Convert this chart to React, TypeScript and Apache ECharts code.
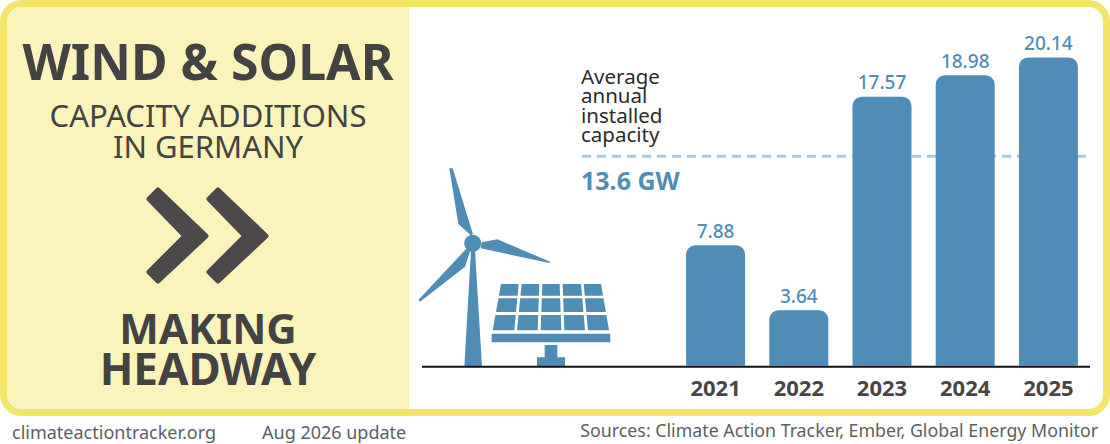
import React, { useEffect, useRef } from "react";
import * as echarts from "echarts";

const years = ["2021", "2022", "2023", "2024", "2025"];
const additions = [7.88, 3.64, 17.57, 18.98, 20.14];
const averageValue = 13.6;
const averageLabel = ["Average", "annual", "installed", "capacity"];

const BLUE = "#4f8db6";
const DARK = "#444243";
const FONT = "'Noto Sans', sans-serif";

const poly = (pts: number[][], fill = BLUE) => ({
  type: "polygon",
  shape: { points: pts.map(([x, y]) => [410 + x / 3, 150 + y / 3]) },
  style: { fill },
});

const panelRows = [
  [402, 437],
  [445, 486],
  [495, 541],
];
const topXs = [[273, 326], [335, 388], [397, 449], [458, 513], [521, 573]];
const botXs = [[248, 313], [321, 383], [392, 454], [463, 525], [534, 597]];
const cellX = (col: number, side: number, y: number) => {
  const t = (y - 402) / (541 - 402);
  return topXs[col][side] + (botXs[col][side] - topXs[col][side]) * t;
};
const solarCells = panelRows.flatMap(([y0, y1]) =>
  topXs.map((_, c) =>
    poly([
      [cellX(c, 0, y0), y0],
      [cellX(c, 1, y0), y0],
      [cellX(c, 1, y1), y1],
      [cellX(c, 0, y1), y1],
    ]),
  ),
);

const chevron = (dx: number) => ({
  type: "polygon",
  shape: {
    points: [[158, 190], [206, 236], [158, 281], [149, 272], [185, 236], [149, 199]].map(([x, y]) => [x + dx, y]),
  },
  style: { fill: "#4d4849", stroke: "#4d4849", lineWidth: 5, lineJoin: "round" },
});

const text = (t: string, x: number, y: number, size: number, weight: number | string, fill: string, align = "center") => ({
  type: "text",
  x,
  y,
  style: { text: t, x: 0, y: 0, fontFamily: FONT, fontSize: size, fontWeight: weight, fill, textAlign: align, textVerticalAlign: "middle" },
});

export default function App() {
  const ref = useRef<HTMLDivElement>(null);
  useEffect(() => {
    document.body.style.margin = "0";
    const chart = echarts.init(ref.current!, undefined, { renderer: "svg" });
    chart.setOption({
      animation: false,
      backgroundColor: "#ffffff",
      grid: [
        { left: 674, width: 416, top: 29, height: 337 },
        { left: 582, width: 507, top: 27.5, height: 337 },
      ],
      xAxis: [
        {
          type: "category",
          gridIndex: 0,
          data: years,
          axisLine: { show: false },
          axisTick: { show: false },
          axisLabel: { color: "#4a4545", fontFamily: FONT, fontSize: 22, fontWeight: 700, margin: 10 },
        },
        { type: "value", gridIndex: 1, min: 0, max: 1, show: false },
      ],
      yAxis: [
        { type: "value", gridIndex: 0, min: 0, max: 22, show: false },
        { type: "value", gridIndex: 1, min: 0, max: 22, show: false },
      ],
      series: [
        {
          type: "line",
          xAxisIndex: 1,
          yAxisIndex: 1,
          z: 3,
          silent: true,
          symbol: "none",
          data: [[0, averageValue], [1, averageValue]],
          lineStyle: { color: "#a9c9de", width: 3, type: [9, 6] },
        },
        {
          type: "bar",
          xAxisIndex: 0,
          yAxisIndex: 0,
          z: 4,
          barWidth: 59,
          data: additions,
          itemStyle: { color: BLUE, borderRadius: [9, 9, 0, 0] },
          label: {
            show: true,
            position: "top",
            distance: 5,
            color: BLUE,
            fontFamily: FONT,
            fontSize: 19,
            fontWeight: 500,
            formatter: (p: any) => p.value.toFixed(2),
          },
        },
      ],
      graphic: {
        elements: [
          { type: "rect", z: -10, shape: { x: 3.5, y: 3.5, width: 1103, height: 409, r: 18 }, style: { fill: "#ffffff", stroke: "#f3e567", lineWidth: 7 } },
          { type: "rect", z: -9, shape: { x: 7, y: 7, width: 402, height: 402, r: [14, 0, 0, 14] }, style: { fill: "#faf4bc" } },
          { type: "group", z: 10, children: [
            text("WIND & SOLAR", 208, 61, 50, 700, DARK),
            text("CAPACITY ADDITIONS", 208, 115, 31, 400, DARK),
            text("IN GERMANY", 208, 146, 31, 400, DARK),
            chevron(0),
            chevron(60),
            text("MAKING", 208, 327, 42, 700, DARK),
            text("HEADWAY", 208, 368, 44, 700, DARK),
            ...averageLabel.map((t, i) => text(t, 581, 76 + i * 19.3, 20.5, 400, "#2b2b2b", "left")),
            text(`${averageValue} GW`, 581, 180, 25, 700, BLUE, "left"),
            poly([[118, 55], [128, 55], [188, 250], [185, 258], [145, 222]]),
            poly([[262, 268], [420, 335], [418, 339], [212, 295], [215, 277]]),
            poly([[170, 295], [180, 305], [165, 350], [30, 455], [25, 450]]),
            poly([[163, 650], [216, 650], [195, 300], [183, 300]]),
            { type: "circle", shape: { cx: 472.7, cy: 243.3, r: 8.5 }, style: { fill: BLUE } },
            ...solarCells,
            poly([[245, 551], [601, 551], [601, 577], [245, 577]]),
            poly([[404, 585], [442, 585], [442, 622], [465, 622], [465, 649], [381, 649], [381, 622], [404, 622]]),
            { type: "line", shape: { x1: 422, y1: 366.7, x2: 1090, y2: 366.7 }, style: { stroke: "#111111", lineWidth: 2 } },
            text("climateactiontracker.org", 12, 432, 18, 400, "#5c5f60", "left"),
            text("Aug 2026 update", 262, 432, 18, 400, "#5c5f60", "left"),
            text("Sources: Climate Action Tracker, Ember, Global Energy Monitor", 1098, 430, 17.8, 400, "#5c5f60", "right"),
          ] },
        ],
      },
    });
    return () => chart.dispose();
  }, []);
  return <div ref={ref} style={{ width: 1110, height: 444 }} />;
}
